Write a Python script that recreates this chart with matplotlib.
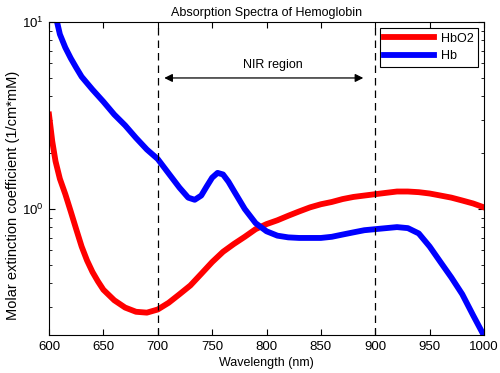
import matplotlib
matplotlib.use("Agg")
import matplotlib.pyplot as plt
from matplotlib.ticker import LogLocator, NullFormatter, FixedLocator

wavelength_o2 = [600, 603, 606, 610, 615, 620, 625, 630, 635, 640, 645, 650, 660, 670, 680,
                 690, 700, 710, 720, 730, 740, 750, 760, 770, 780, 790, 800, 810, 820, 830,
                 840, 850, 860, 870, 880, 890, 900, 910, 920, 930, 940, 950, 960, 970, 980,
                 990, 1000]
hbo2 = [3.2, 2.3, 1.8, 1.45, 1.2, 0.97, 0.78, 0.63, 0.53, 0.46, 0.41, 0.37, 0.325, 0.297, 0.282,
        0.279, 0.29, 0.315, 0.35, 0.39, 0.45, 0.52, 0.59, 0.65, 0.71, 0.78, 0.83, 0.87, 0.92,
        0.97, 1.02, 1.06, 1.09, 1.13, 1.16, 1.18, 1.2, 1.22, 1.24, 1.24, 1.23, 1.21, 1.18,
        1.15, 1.11, 1.07, 1.02]

wavelength_hb = [600, 605, 610, 615, 620, 625, 630, 640, 650, 660, 670, 680, 690, 700, 710,
                 720, 728, 734, 740, 745, 750, 755, 760, 765, 770, 780, 790, 800, 810, 820,
                 830, 840, 850, 860, 870, 880, 890, 900, 910, 920, 930, 940, 950, 960, 970,
                 980, 990, 1000]
hb = [14.5, 11.5, 8.6, 7.3, 6.4, 5.7, 5.1, 4.35, 3.75, 3.2, 2.8, 2.4, 2.08, 1.85, 1.55,
      1.30, 1.15, 1.12, 1.18, 1.32, 1.47, 1.56, 1.53, 1.40, 1.25, 1.0, 0.84, 0.76, 0.72, 0.705,
      0.70, 0.70, 0.70, 0.71, 0.73, 0.75, 0.77, 0.78, 0.79, 0.80, 0.79, 0.74, 0.63, 0.52, 0.43,
      0.35, 0.27, 0.21]

x_ticks = [600, 650, 700, 750, 800, 850, 900, 950, 1000]
nir_bounds = [700, 900]

plt.rcParams['font.family'] = ['Liberation Sans', 'DejaVu Sans']
fig = plt.figure(figsize=(5.0, 3.73), dpi=100)
ax = fig.add_axes([0.098, 0.101, 0.870, 0.840])

ax.plot(wavelength_o2, hbo2, color='#ff0000', lw=4.2, label='HbO2')
ax.plot(wavelength_hb, hb, color='#0000ff', lw=4.2, label='Hb')

for b in nir_bounds:
    ax.axvline(b, color='black', lw=0.9, dashes=(6, 4))

ax.set_yscale('log')
ax.set_xlim(600, 1000)
ax.set_ylim(0.211, 10)
ax.xaxis.set_major_locator(FixedLocator(x_ticks))
ax.yaxis.set_major_locator(LogLocator(base=10, numticks=5))
ax.yaxis.set_minor_locator(LogLocator(base=10, subs=range(2, 10), numticks=20))
ax.yaxis.set_minor_formatter(NullFormatter())
ax.tick_params(which='both', direction='in', top=True, right=True, labelsize=9.5)
ax.tick_params(which='major', length=4, width=0.8, pad=4)
ax.tick_params(which='minor', length=2, width=0.6)
for s in ax.spines.values():
    s.set_linewidth(0.8)

ax.annotate('', xy=(706, 5.02), xytext=(889, 5.02),
            arrowprops=dict(arrowstyle='<|-|>', color='black', lw=0.9,
                            mutation_scale=12, shrinkA=0, shrinkB=0))
ax.text(806, 5.9, 'NIR region', ha='center', va='center', fontsize=9)

ax.set_title('Absorption Spectra of Hemoglobin', fontsize=9, pad=4)
ax.set_xlabel('Wavelength (nm)', fontsize=9)
ax.xaxis.set_label_coords(0.5, -0.068)
ax.set_ylabel('Molar extinction coefficient (1/cm*mM)', fontsize=10.5)
ax.yaxis.set_label_coords(-0.067, 0.447)

leg = ax.legend(loc='upper right', fontsize=9, handlelength=4.0, borderaxespad=0.5,
                fancybox=False, edgecolor='black', framealpha=1, borderpad=0.35,
                handletextpad=0.5, labelspacing=0.45)
leg.get_frame().set_linewidth(0.8)

fig.savefig('out.png', dpi=100)
